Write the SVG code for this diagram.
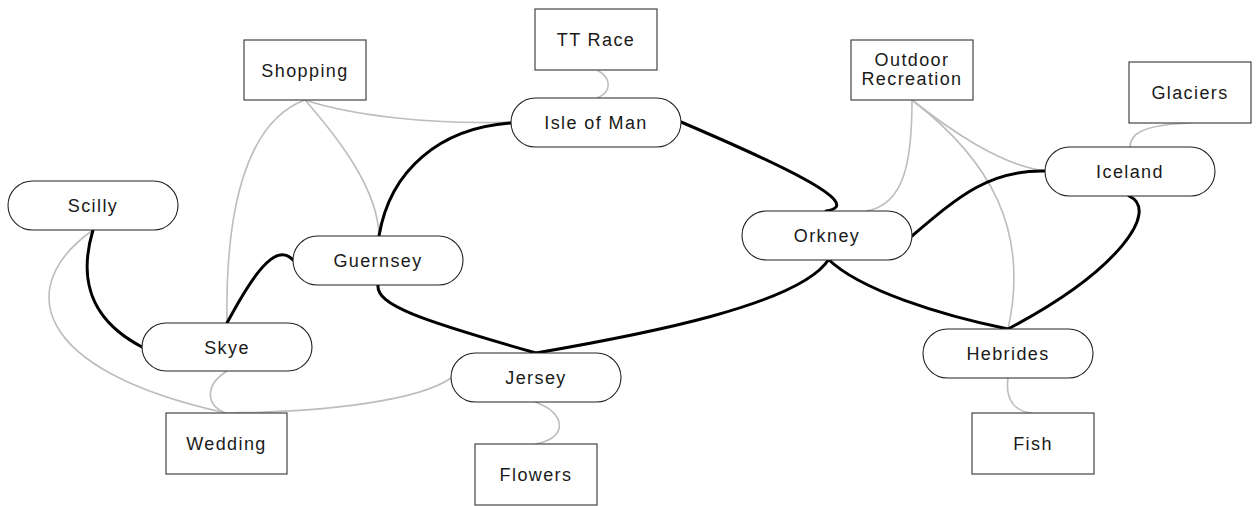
<svg xmlns="http://www.w3.org/2000/svg" width="1256" height="506" viewBox="0 0 1256 506">
<style>
.box{fill:#fff;stroke:#444;stroke-width:1.2}
.pill{fill:#fff;stroke:#222;stroke-width:1.1}
.lbl{font-family:"Liberation Sans",Arial,sans-serif;font-size:18px;letter-spacing:1.4px;fill:#1a1a1a;text-anchor:middle}
.strong{fill:none;stroke:#000;stroke-width:3;stroke-linecap:round}
.weak{fill:none;stroke:#bdbdbd;stroke-width:1.6}
</style>
<rect width="1256" height="506" fill="#fff"/>
<g id="connectors">
<path class="weak" d="M597,70 C612,78 612,92 597,98"/>
<path class="weak" d="M305,100 C350,115 430,125 511,122"/>
<path class="weak" d="M305,100 C340,140 378,190 379,236"/>
<path class="weak" d="M305,100 C250,120 225,200 227,323"/>
<path class="weak" d="M93,230 C15,285 30,370 226,413"/>
<path class="weak" d="M227,371 C205,385 205,405 226,413"/>
<path class="weak" d="M226,413 C330,412 420,400 451,378"/>
<path class="weak" d="M535,402 C565,412 570,438 535,444"/>
<path class="weak" d="M912,100 C912,160 905,205 866,211"/>
<path class="weak" d="M912,100 C950,130 1000,165 1045,171"/>
<path class="weak" d="M912,100 C990,160 1030,230 1008,329"/>
<path class="weak" d="M1190,123 C1140,125 1130,135 1130,147"/>
<path class="weak" d="M1008,378 C1005,400 1015,412 1033,413"/>
<path class="strong" d="M379,236 C390,170 440,128 511,123"/>
<path class="strong" d="M681,122 C770,160 870,205 826,211"/>
<path class="strong" d="M227,323 C250,280 275,240 293,260"/>
<path class="strong" d="M93,230 C75,290 100,325 142,347"/>
<path class="strong" d="M378,285 C376,305 420,320 536,353"/>
<path class="strong" d="M536,353 C640,335 800,305 829,259"/>
<path class="strong" d="M912,236 C960,195 990,170 1045,171"/>
<path class="strong" d="M1129,196 C1160,210 1120,270 1008,329"/>
<path class="strong" d="M828,259 C860,290 940,315 1008,329"/>
</g>
<g id="shopping"><rect class="box" x="244" y="40" width="122" height="60"/><text class="lbl" x="305" y="76.5">Shopping</text></g>
<g id="ttrace"><rect class="box" x="535" y="9" width="122" height="61"/><text class="lbl" x="596" y="46">TT Race</text></g>
<g id="outdoor"><rect class="box" x="851" y="40" width="122" height="60"/><text class="lbl" x="912" y="66">Outdoor</text><text class="lbl" x="912" y="85">Recreation</text></g>
<g id="glaciers"><rect class="box" x="1129" y="62" width="122" height="61"/><text class="lbl" x="1190" y="99">Glaciers</text></g>
<g id="scilly"><rect class="pill" x="8" y="181" width="170" height="49" rx="24.5"/><text class="lbl" x="93" y="212">Scilly</text></g>
<g id="isleofman"><rect class="pill" x="511" y="98" width="170" height="49" rx="24.5"/><text class="lbl" x="596" y="129">Isle of Man</text></g>
<g id="iceland"><rect class="pill" x="1045" y="147" width="170" height="49" rx="24.5"/><text class="lbl" x="1130" y="178">Iceland</text></g>
<g id="orkney"><rect class="pill" x="742" y="211" width="170" height="49" rx="24.5"/><text class="lbl" x="827" y="242">Orkney</text></g>
<g id="guernsey"><rect class="pill" x="293" y="236" width="170" height="49" rx="24.5"/><text class="lbl" x="378" y="267">Guernsey</text></g>
<g id="skye"><rect class="pill" x="142" y="323" width="170" height="48" rx="24"/><text class="lbl" x="227" y="353.5">Skye</text></g>
<g id="jersey"><rect class="pill" x="451" y="353" width="170" height="49" rx="24.5"/><text class="lbl" x="536" y="384">Jersey</text></g>
<g id="hebrides"><rect class="pill" x="923" y="329" width="170" height="49" rx="24.5"/><text class="lbl" x="1008" y="360">Hebrides</text></g>
<g id="wedding"><rect class="box" x="166" y="413" width="121" height="61"/><text class="lbl" x="226.5" y="450">Wedding</text></g>
<g id="flowers"><rect class="box" x="475" y="444" width="122" height="61"/><text class="lbl" x="536" y="481">Flowers</text></g>
<g id="fish"><rect class="box" x="972" y="413" width="122" height="61"/><text class="lbl" x="1033" y="450">Fish</text></g>
</svg>
